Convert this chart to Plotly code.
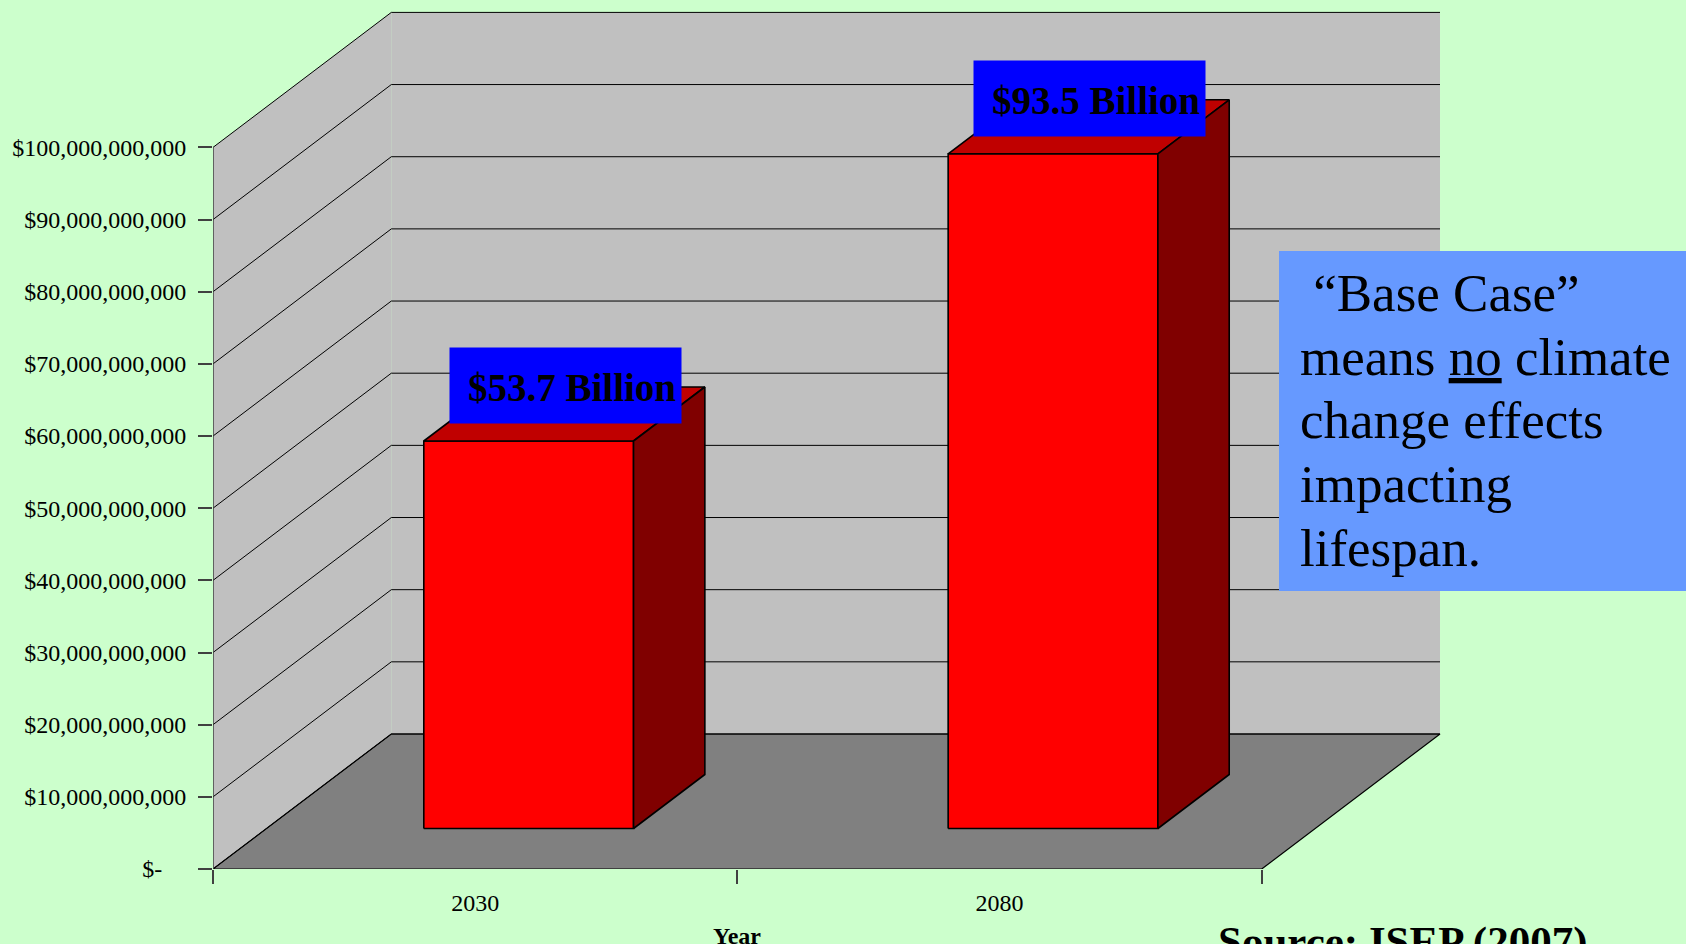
import plotly.graph_objects as go

# ---- data -------------------------------------------------------------
years = ["2030", "2080"]
costs = [53.7e9, 93.5e9]
cost_labels = ["$53.7 Billion", "$93.5 Billion"]

y_tick_values = [0, 10e9, 20e9, 30e9, 40e9, 50e9, 60e9, 70e9, 80e9, 90e9, 100e9]
y_tick_text = [
    "$-\u00a0\u00a0\u00a0\u00a0", "$10,000,000,000", "$20,000,000,000", "$30,000,000,000",
    "$40,000,000,000", "$50,000,000,000", "$60,000,000,000", "$70,000,000,000",
    "$80,000,000,000", "$90,000,000,000", "$100,000,000,000",
]
note_lines = ["\u00a0\u201cBase Case\u201d", "means <u>no</u> climate",
              "change effects", "impacting", "lifespan."]
source_text = "Source: ISEP (2007)"
x_title = "Year"

# ---- geometry of the pseudo-3D frame ----------------------------------
W, H = 1686, 944
M_L, M_R, M_T, M_B = 213, 0, 0, 75
PLOT_W, PLOT_H = W - M_L - M_R, H - M_T - M_B

PX_PER_X = 524.35            # pixels per category unit
PX_PER_Y = 721.6 / 100e9     # pixels per dollar
DX = 178.3 / PX_PER_X        # depth offset along x (data units)
DY = 135.0 / PX_PER_Y        # depth offset along y (data units)

N_CAT = len(years)
Y_TOP = y_tick_values[-1]
BAR_HALF = 0.2               # half width of each bar (category units)
D0, D1 = 0.3, 0.7            # bar front / back depth fraction

BG = "#CCFFCC"
WALL = "#C0C0C0"
FLOOR = "#808080"
FONT = "Liberation Serif"

LABEL_W, LABEL_H = 231, 75   # value label box size (px)
LABEL_DX, LABEL_DY = 25, 17  # offset of label box from bar top-left corner (px)


def px_to_paper_x(px):
    return (px - M_L) / PLOT_W


def px_to_paper_y(py):
    return (M_T + PLOT_H - py) / PLOT_H


def poly(xs, ys, fill, line_color=None, line_width=0):
    return go.Scatter(
        x=list(xs) + [xs[0]], y=list(ys) + [ys[0]],
        mode="lines", fill="toself", fillcolor=fill,
        line=dict(color=line_color or fill, width=line_width),
        hoverinfo="skip", showlegend=False,
    )


fig = go.Figure()

# left wall and back wall
fig.add_trace(poly([0, 0, DX, DX], [0, Y_TOP, Y_TOP + DY, DY], WALL))
fig.add_trace(poly([DX, DX, N_CAT + DX, N_CAT + DX],
                   [DY, Y_TOP + DY, Y_TOP + DY, DY], WALL))
# floor
fig.add_trace(poly([0, N_CAT, N_CAT + DX, DX], [0, 0, DY, DY], FLOOR, "black", 1.2))

# gridlines: diagonal on the left wall, horizontal on the back wall
gx, gy = [], []
for v in y_tick_values:
    gx += [0, DX, N_CAT + DX, None]
    gy += [v, v + DY, v + DY, None]
fig.add_trace(go.Scatter(x=gx, y=gy, mode="lines", line=dict(color="black", width=1),
                         hoverinfo="skip", showlegend=False))

# bars: front, top and side faces, each with its value label
for i, v in enumerate(costs):
    c = i + 0.5
    xl, xr = c - BAR_HALF, c + BAR_HALF
    fig.add_trace(poly([xl + D0 * DX, xr + D0 * DX, xr + D0 * DX, xl + D0 * DX],
                       [D0 * DY, D0 * DY, v + D0 * DY, v + D0 * DY],
                       "#FF0000", "black", 1.6))
    fig.add_trace(poly([xl + D0 * DX, xr + D0 * DX, xr + D1 * DX, xl + D1 * DX],
                       [v + D0 * DY, v + D0 * DY, v + D1 * DY, v + D1 * DY],
                       "#C00000", "black", 1.6))
    fig.add_trace(poly([xr + D0 * DX, xr + D1 * DX, xr + D1 * DX, xr + D0 * DX],
                       [D0 * DY, D1 * DY, v + D1 * DY, v + D0 * DY],
                       "#800000", "black", 1.6))
    # blue box
    fig.add_annotation(
        x=xl + D0 * DX, y=v + D0 * DY, xref="x", yref="y",
        xanchor="left", yanchor="bottom", xshift=LABEL_DX, yshift=LABEL_DY,
        text="", showarrow=False, bgcolor="#0000FF",
        width=LABEL_W, height=LABEL_H, borderpad=0,
    )
    # label text, right-aligned inside the box
    fig.add_annotation(
        x=xl + D0 * DX, y=v + D0 * DY, xref="x", yref="y",
        xanchor="right", yanchor="middle",
        xshift=LABEL_DX + LABEL_W - 2, yshift=LABEL_DY + LABEL_H / 2 - 1,
        text=f"<b>{cost_labels[i]}</b>", showarrow=False,
        font=dict(family=FONT, size=39, color="black"),
    )

# value axis line
fig.add_shape(type="line", x0=0, x1=0, y0=0, y1=Y_TOP, xref="x", yref="y",
              line=dict(color="#404040", width=1.5))

# explanatory note
fig.add_shape(type="rect", xref="paper", yref="paper",
              x0=px_to_paper_x(1279), x1=px_to_paper_x(1700),
              y0=px_to_paper_y(591), y1=px_to_paper_y(251),
              fillcolor="#6699FF", line=dict(width=0), layer="above")
NOTE_BASELINES = [311.7, 375.5, 439.3, 503.3, 567.0]
for line, base in zip(note_lines, NOTE_BASELINES):
    fig.add_annotation(
        x=px_to_paper_x(1298), y=px_to_paper_y(base - 19), xref="paper", yref="paper",
        xanchor="left", yanchor="middle", text=line, showarrow=False,
        align="left", font=dict(family=FONT, size=53, color="black"),
    )

# axis title and source
fig.add_annotation(
    x=1, y=px_to_paper_y(921), xref="x", yref="paper", xanchor="center", yanchor="top",
    text=f"<b>{x_title}</b>", showarrow=False,
    font=dict(family=FONT, size=24, color="black"),
)
fig.add_annotation(
    x=px_to_paper_x(1216), y=px_to_paper_y(916), xref="paper", yref="paper",
    xanchor="left", yanchor="top", text=f"<b>{source_text}</b>", showarrow=False,
    font=dict(family=FONT, size=43, color="black"),
)

fig.update_layout(
    width=W, height=H,
    margin=dict(l=M_L, r=M_R, t=M_T, b=M_B, pad=0),
    paper_bgcolor=BG, plot_bgcolor=BG,
    showlegend=False,
    xaxis=dict(
        range=[0, PLOT_W / PX_PER_X], showgrid=False, zeroline=False, showline=False,
        tickmode="array", tickvals=[i + 0.5 for i in range(N_CAT)], ticktext=years,
        ticks="", ticklabelstandoff=17,
        tickfont=dict(family=FONT, size=24, color="black"),
        minor=dict(tickmode="array", tickvals=list(range(N_CAT + 1)), ticks="outside",
                   ticklen=14, tickcolor="#404040", tickwidth=1.5),
        fixedrange=True,
    ),
    yaxis=dict(
        range=[0, PLOT_H / PX_PER_Y], showgrid=False, zeroline=False, showline=False,
        tickmode="array", tickvals=y_tick_values, ticktext=y_tick_text,
        ticks="outside", ticklen=14, tickcolor="#404040", tickwidth=1.5,
        ticklabelstandoff=7,
        tickfont=dict(family=FONT, size=24, color="black"),
        fixedrange=True,
    ),
)

fig.write_html("out.html")
